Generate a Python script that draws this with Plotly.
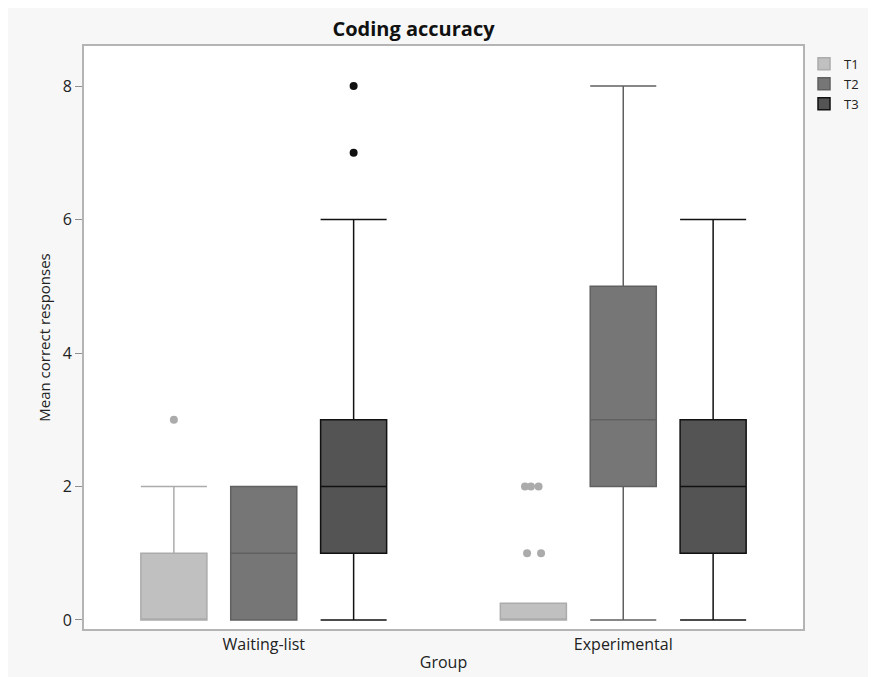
import plotly.graph_objects as go

groups = ["Waiting-list", "Experimental"]
series = ["T1", "T2", "T3"]

q1_vals = {"T1": [0, 0], "T2": [0, 2], "T3": [1, 1]}
median_vals = {"T1": [0, 0], "T2": [1, 3], "T3": [2, 2]}
q3_vals = {"T1": [1, 0.25], "T2": [2, 5], "T3": [3, 3]}
lower_vals = {"T1": [0, 0], "T2": [0, 0], "T3": [0, 0]}
upper_vals = {"T1": [2, 0.25], "T2": [2, 8], "T3": [6, 6]}
outlier_vals = {
    "T1": [[3], [2, 2, 2, 1, 1]],
    "T2": None,
    "T3": [[7, 8], []],
}

fill_colors = {"T1": "#c0c0c0", "T2": "#767676", "T3": "#545454"}
line_colors = {"T1": "#ababab", "T2": "#606060", "T3": "#111111"}

fig = go.Figure()
for s in series:
    kw = {}
    if outlier_vals[s] is not None:
        kw["y"] = outlier_vals[s]
    fig.add_trace(go.Box(
        name=s,
        x=groups,
        q1=q1_vals[s],
        median=median_vals[s],
        q3=q3_vals[s],
        lowerfence=lower_vals[s],
        upperfence=upper_vals[s],
        boxpoints="outliers",
        jitter=0.3 if s == "T1" else 0,
        pointpos=0,
        fillcolor=fill_colors[s],
        line=dict(color=line_colors[s], width=1.5),
        marker=dict(color=line_colors[s], size=8),
        whiskerwidth=1,
        **kw,
    ))

W, H = 868, 669
L, R, T, B = 76, 73, 38, 48

fig.update_layout(
    width=W,
    height=H,
    boxmode="group",
    boxgap=0.25,
    boxgroupgap=0.265,
    paper_bgcolor="#f7f7f7",
    plot_bgcolor="white",
    margin=dict(l=L, r=R, t=T, b=B, autoexpand=False),
    font=dict(family="Open Sans, sans-serif", size=16, color="#222222"),
    title=dict(text="<b>Coding accuracy</b>", x=405.5 / W, xanchor="center",
               y=1 - 21 / H, yanchor="middle", font=dict(size=20, color="#111111")),
    legend=dict(x=1.0014, y=0.995, xanchor="left", yanchor="top", bgcolor="rgba(0,0,0,0)",
                font=dict(size=13), itemwidth=30),
    showlegend=True,
)

fig.update_xaxes(
    title=dict(text="Group", standoff=3, font=dict(size=16)),
    automargin=False,
    range=[-0.5, 1.5],
    showline=True, mirror=True, linecolor="#b4b4b4", linewidth=2,
    showgrid=False, zeroline=False, ticks="",
    tickfont=dict(size=16),
)
fig.update_yaxes(
    title=dict(text="Mean correct responses", standoff=8, font=dict(size=15)),
    automargin=False,
    range=[-0.135, 8.6],
    tickvals=[0, 2, 4, 6, 8],
    showline=True, mirror=True, linecolor="#b4b4b4", linewidth=2,
    showgrid=False, zeroline=False, ticks="outside", ticklen=7, tickcolor="#909090",
    tickfont=dict(size=16),
)

fig.write_html("out.html")
